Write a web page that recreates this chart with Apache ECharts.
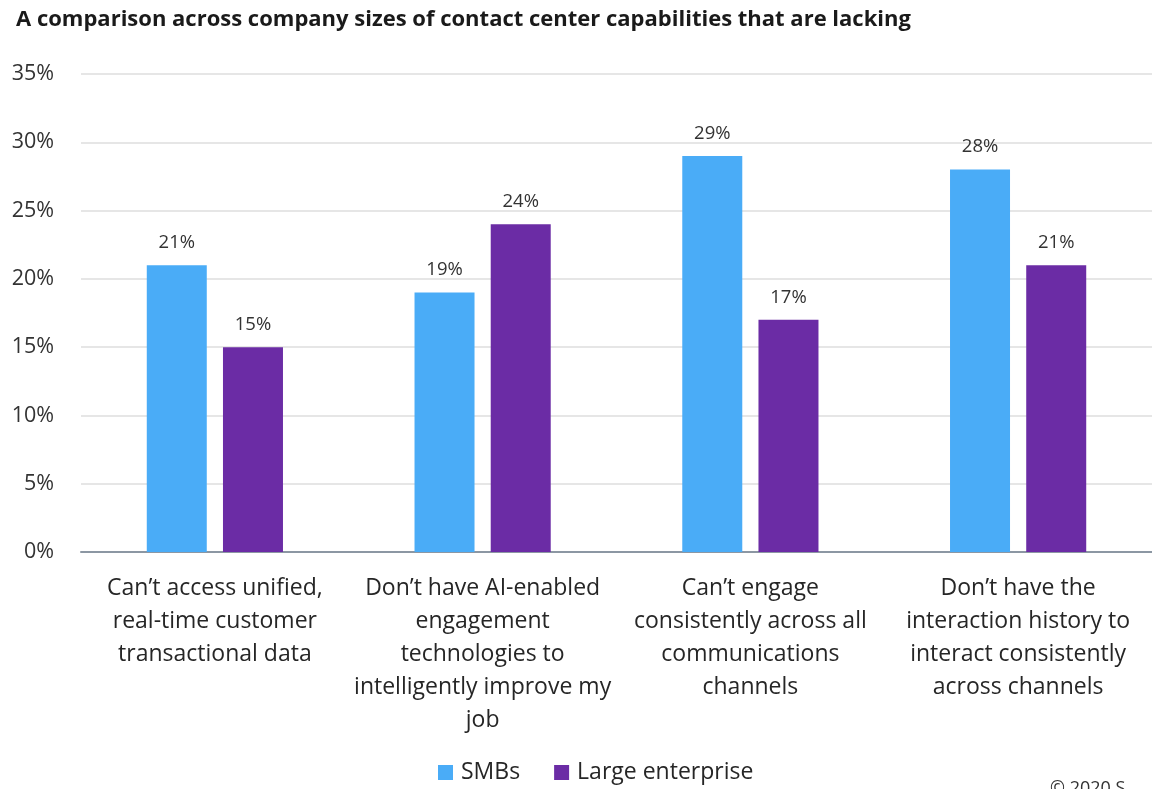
<!DOCTYPE html>
<html>
<head>
<meta charset="utf-8">
<script src="https://cdn.jsdelivr.net/npm/echarts@6/dist/echarts.min.js"></script>
<style>
  html, body { margin: 0; padding: 0; background: #ffffff; }
  #chart { width: 1152px; height: 789px; }
</style>
</head>
<body>
<div id="chart"></div>
<script>
// Contact center capability gaps by company size (percent of respondents)
const categories = [
  'Can\u2019t access unified,\nreal-time customer\ntransactional data',
  'Don\u2019t have AI-enabled\nengagement\ntechnologies to\nintelligently improve my\njob',
  'Can\u2019t engage\nconsistently across all\ncommunications\nchannels',
  'Don\u2019t have the\ninteraction history to\ninteract consistently\nacross channels'
];
const smbValues = [21, 19, 29, 28];
const largeEnterpriseValues = [15, 24, 17, 21];
const seriesNames = ['SMBs', 'Large enterprise'];
const titleText = 'A comparison across company sizes of contact center capabilities that are lacking';
const footerText = '\u00a9 2020 S';

const FONT = '"Open Sans", "Liberation Sans", sans-serif';
const chart = echarts.init(document.getElementById('chart'));

chart.setOption({
  animation: false,
  backgroundColor: '#ffffff',
  textStyle: { fontFamily: FONT },
  title: {
    text: titleText,
    left: 11,
    top: 4,
    textStyle: { fontFamily: FONT, fontSize: 22, fontWeight: 'bold', color: '#1a1a1a' }
  },
  legend: {
    data: seriesNames,
    bottom: 0,
    left: 433,
    itemWidth: 15,
    itemHeight: 15,
    itemGap: 34,
    icon: 'rect',
    textStyle: { fontFamily: FONT, fontSize: 23, color: '#262626', padding: [0, 0, 0, 3] }
  },
  grid: { left: 81, top: 74, width: 1078, height: 478, containLabel: false },
  xAxis: {
    type: 'category',
    data: categories,
    axisTick: { show: false },
    axisLine: { lineStyle: { color: '#8c97a3', width: 2 } },
    axisLabel: {
      interval: 0,
      margin: 20,
      fontFamily: FONT,
      fontSize: 23,
      lineHeight: 33,
      color: '#262626',
      align: 'center'
    }
  },
  yAxis: {
    type: 'value',
    min: 0,
    max: 35,
    interval: 5,
    axisLine: { show: false },
    axisTick: { show: false },
    splitLine: { lineStyle: { color: '#e6e6e6', width: 2 } },
    axisLabel: {
      formatter: '{value}%',
      margin: 27,
      fontFamily: FONT,
      fontSize: 21.5,
      color: '#333333'
    }
  },
  series: [
    {
      name: seriesNames[0],
      type: 'bar',
      data: smbValues,
      barWidth: 60,
      barGap: '27%',
      itemStyle: { color: '#4aacf7' },
      label: {
        show: true,
        position: 'top',
        distance: 13,
        formatter: '{c}%',
        fontFamily: FONT,
        fontSize: 18.5,
        color: '#333333'
      }
    },
    {
      name: seriesNames[1],
      type: 'bar',
      data: largeEnterpriseValues,
      barWidth: 60,
      itemStyle: { color: '#6b2ca5' },
      label: {
        show: true,
        position: 'top',
        distance: 13,
        formatter: '{c}%',
        fontFamily: FONT,
        fontSize: 18.5,
        color: '#333333'
      }
    }
  ],
  graphic: [
    {
      type: 'text',
      left: 1050,
      top: 780,
      style: { text: footerText, fontFamily: FONT, fontSize: 18, fill: '#333333' }
    }
  ]
});
</script>
</body>
</html>
